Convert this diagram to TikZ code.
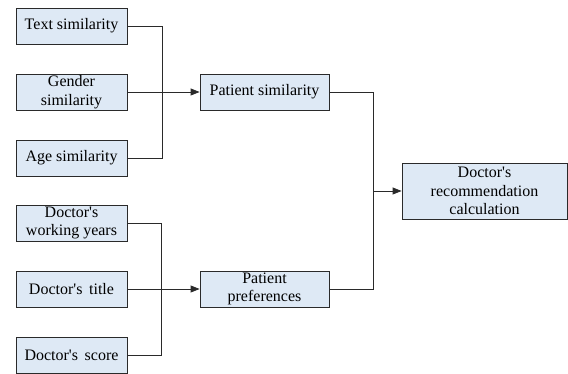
\documentclass[tikz,border=0pt]{standalone}
\usepackage{fontspec}
\IfFontExistsTF{LiberationSerif-Regular.ttf}
  {\newfontfamily\tnr{LiberationSerif-Regular.ttf}}
  {\newfontfamily\tnr{Liberation Serif}}
\usetikzlibrary{arrows.meta,shadows}
\definecolor{boxfill}{HTML}{DEE9F5}
\definecolor{lineg}{HTML}{2A2A2A}
\begin{document}
\begin{tikzpicture}[x=1pt,y=-1pt,
  box/.style={draw=lineg,line width=0.8pt,fill=boxfill,align=center,inner sep=0pt,
    font=\tnr\fontsize{16}{18.5}\selectfont,
    drop shadow={opacity=0.12,shadow xshift=1pt,shadow yshift=-1.5pt,fill=blue!40}},
  conn/.style={draw=lineg,line width=0.8pt},
  arr/.style={conn,-{Triangle[length=9pt,width=7pt]}}]
\useasboundingbox (0,0) rectangle (568,374);
\node[box,minimum width=111pt,minimum height=36pt] (text) at (71.5,26) {Text similarity};
\node[box,minimum width=111pt,minimum height=36pt] (gender) at (71.5,92) {Gender\\similarity};
\node[box,minimum width=111pt,minimum height=36pt] (age) at (71.5,158) {Age similarity};
\node[box,minimum width=111pt,minimum height=36pt] (work) at (71.5,223) {Doctor\textquotesingle s\\working years};
\node[box,minimum width=111pt,minimum height=36pt] (title) at (71.5,289) {Doctor\textquotesingle s\, title};
\node[box,minimum width=111pt,minimum height=36pt] (score) at (71.5,355) {Doctor\textquotesingle s\, score};
\node[box,minimum width=129pt,minimum height=36pt] (psim) at (264.5,92) {Patient similarity};
\node[box,minimum width=129pt,minimum height=36pt] (ppref) at (264.5,289) {Patient\\preferences};
\node[box,minimum width=165pt,minimum height=56pt] (rec) at (484.5,191) {Doctor\textquotesingle s\\recommendation\\calculation};
\coordinate (b1t) at (162,26);
\coordinate (b1b) at (162,158);
\coordinate (b2t) at (161,223);
\coordinate (b2b) at (161,355);
\coordinate (b3t) at (373,92);
\coordinate (b3b) at (373,289);
\coordinate (b3m) at (373,191);
\draw[conn] (text.east) -- (b1t) -- (b1b) -- (age.east);
\draw[arr] (gender.east) -- (psim.west);
\draw[conn] (work.east) -- (b2t) -- (b2b) -- (score.east);
\draw[arr] (title.east) -- (ppref.west);
\draw[conn] (psim.east) -- (b3t) -- (b3b) -- (ppref.east);
\draw[arr] (b3m) -- (rec.west);
\end{tikzpicture}
\end{document}
